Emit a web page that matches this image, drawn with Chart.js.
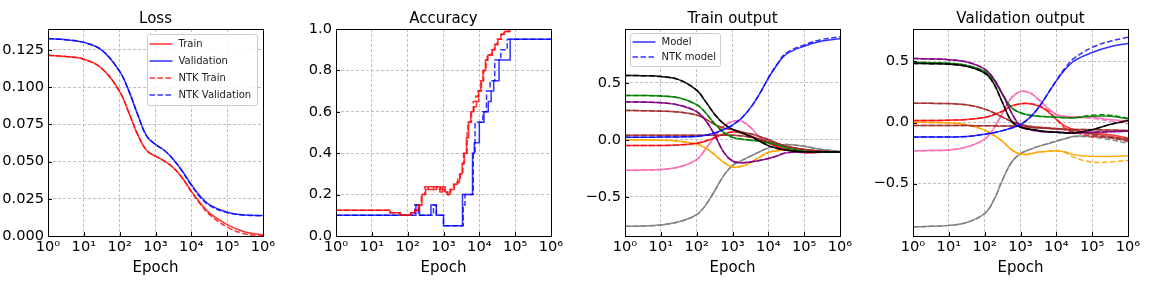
<!DOCTYPE html>
<html>
<head>
<meta charset="utf-8">
<script src="https://cdn.jsdelivr.net/npm/chart.js@4.4.1/dist/chart.umd.min.js"></script>
<style>
  body { margin: 0; background: #fff; width: 1152px; height: 288px; overflow: hidden; position: relative; }
  canvas { position: absolute; top: 0; }
</style>
</head>
<body>
<canvas id="lossChart" width="288" height="288" style="left:0px"></canvas>
<canvas id="accChart" width="288" height="288" style="left:288px"></canvas>
<canvas id="trainOutChart" width="288" height="288" style="left:577px"></canvas>
<canvas id="valOutChart" width="288" height="288" style="left:865px"></canvas>
<script>
// shared epoch grid for the smooth curves
const epochs = [1, 3.162, 10, 31.62, 100, 177.8, 316.2, 562.3, 1000, 1778, 3162, 5623, 10000, 17780, 31620, 100000, 316200, 1000000];
const xTicks = [1, 10, 100, 1000, 10000, 100000, 1000000];
const xTickLabels = ['10\u2070', '10\u00b9', '10\u00b2', '10\u00b3', '10\u2074', '10\u2075', '10\u2076'];

// Loss
const lossTrain    = [0.1214, 0.1205, 0.1187, 0.1125, 0.0970, 0.0832, 0.0682, 0.0575, 0.0536, 0.0503, 0.0458, 0.0390, 0.0300, 0.0222, 0.0155, 0.0076, 0.0027, 0.0009];
const lossVal      = [0.1326, 0.1318, 0.1300, 0.1248, 0.1105, 0.0978, 0.0817, 0.0672, 0.0615, 0.0574, 0.0514, 0.0435, 0.0346, 0.0267, 0.0211, 0.0159, 0.0141, 0.0137];
const lossNtkTrain = [0.1214, 0.1205, 0.1187, 0.1125, 0.0970, 0.0832, 0.0682, 0.0575, 0.0536, 0.0503, 0.0458, 0.0388, 0.0296, 0.0215, 0.0145, 0.0060, 0.0014, 0.0001];
const lossNtkVal   = [0.1326, 0.1318, 0.1300, 0.1248, 0.1105, 0.0978, 0.0817, 0.0672, 0.0615, 0.0574, 0.0514, 0.0433, 0.0340, 0.0260, 0.0205, 0.0157, 0.0140, 0.0136];
const lossTicks = [0, 0.025, 0.05, 0.075, 0.1, 0.125];

// Accuracy (step changes: epoch where the value switches, new value)
const accTrainEpochs = [1, 31.6, 60, 126, 158, 200, 251, 316, 372, 525, 631, 794, 933, 1122, 1259, 1514, 1995, 2399, 2818, 3311, 3802, 4365, 5012, 5754, 7079, 8318, 9550, 10960, 12590, 14790, 17380, 22910, 27540, 33110, 39810, 50120, 70790, 1000000];
const accTrain       = [0.125, 0.1125, 0.1, 0.1125, 0.125, 0.15, 0.2, 0.225, 0.2375, 0.225, 0.2375, 0.2125, 0.2375, 0.2125, 0.2, 0.225, 0.25, 0.2625, 0.3, 0.35, 0.4, 0.475, 0.55, 0.6, 0.625, 0.65, 0.7, 0.75, 0.8, 0.85, 0.875, 0.9, 0.925, 0.95, 0.975, 0.9875, 1.0, 1.0];
const accNtkTrainEpochs = [1, 33.9, 63, 120, 166, 209, 240, 302, 390, 501, 660, 832, 977, 1072, 1318, 1585, 1905, 2512, 2951, 3467, 3631, 4571, 4786, 6026, 6761, 7943, 9120, 11480, 13180, 15490, 16600, 21880, 26300, 31620, 41690, 47860, 67610, 1000000];
const accNtkTrain       = [0.125, 0.1125, 0.1, 0.1125, 0.125, 0.15, 0.2, 0.2375, 0.225, 0.2375, 0.225, 0.2375, 0.225, 0.2125, 0.2, 0.225, 0.25, 0.275, 0.3, 0.35, 0.4, 0.5, 0.55, 0.6, 0.65, 0.675, 0.7, 0.75, 0.8, 0.85, 0.875, 0.9, 0.925, 0.95, 0.975, 0.9875, 1.0, 1.0];
const accValEpochs = [1, 170, 214, 447, 631, 1000, 3388, 6457, 7244, 10000, 13490, 17780, 21380, 25120, 35480, 72440, 1000000];
const accVal       = [0.1, 0.15, 0.1, 0.15, 0.1, 0.05, 0.2, 0.4, 0.45, 0.55, 0.6, 0.65, 0.7, 0.75, 0.85, 0.95, 0.95];
const accNtkValEpochs = [1, 158, 200, 525, 631, 1000, 3548, 3981, 6761, 7586, 12590, 15850, 19950, 26920, 39810, 60260, 1000000];
const accNtkVal       = [0.1, 0.15, 0.1, 0.15, 0.1, 0.05, 0.15, 0.2, 0.4, 0.55, 0.6, 0.7, 0.75, 0.85, 0.9, 0.95, 0.95];
const accTicks = [0, 0.2, 0.4, 0.6, 0.8, 1.0];

// Train output, one curve per training sample
const trBlue    = [0.023, 0.023, 0.024, 0.026, 0.030, 0.040, 0.060, 0.090, 0.130, 0.190, 0.280, 0.400, 0.540, 0.660, 0.750, 0.820, 0.865, 0.886];
const trBlueNtk = [0.023, 0.023, 0.024, 0.026, 0.030, 0.040, 0.060, 0.090, 0.130, 0.190, 0.280, 0.400, 0.540, 0.665, 0.760, 0.832, 0.880, 0.902];
const trBlack   = [0.564, 0.562, 0.555, 0.528, 0.435, 0.335, 0.225, 0.142, 0.092, 0.062, 0.030, -0.010, -0.050, -0.075, -0.090, -0.105, -0.107, -0.107];
const trGreen   = [0.389, 0.388, 0.384, 0.368, 0.308, 0.236, 0.142, 0.066, 0.022, 0.006, -0.003, -0.012, -0.026, -0.045, -0.070, -0.100, -0.106, -0.107];
const trPurple  = [0.333, 0.331, 0.326, 0.305, 0.248, 0.170, 0.045, -0.105, -0.185, -0.200, -0.193, -0.180, -0.164, -0.140, -0.114, -0.105, -0.107, -0.107];
const trBrown   = [0.257, 0.255, 0.251, 0.243, 0.218, 0.182, 0.136, 0.105, 0.090, 0.070, 0.053, 0.030, 0.003, -0.028, -0.056, -0.085, -0.100, -0.107];
const trBrown2  = [0.040, 0.040, 0.040, 0.040, 0.040, 0.040, 0.040, 0.040, 0.040, 0.035, 0.023, 0.008, -0.012, -0.035, -0.056, -0.085, -0.100, -0.107];
const trRed     = [-0.050, -0.050, -0.049, -0.045, -0.030, -0.010, 0.018, 0.050, 0.068, 0.062, 0.035, 0.002, -0.026, -0.060, -0.085, -0.108, -0.108, -0.107];
const trOrange  = [0.000, -0.001, -0.003, -0.012, -0.037, -0.072, -0.129, -0.195, -0.238, -0.232, -0.200, -0.152, -0.110, -0.095, -0.088, -0.100, -0.106, -0.107];
const trPink    = [-0.266, -0.265, -0.260, -0.238, -0.172, -0.080, 0.030, 0.118, 0.162, 0.164, 0.110, 0.025, -0.026, -0.060, -0.085, -0.114, -0.108, -0.107];
const trGray    = [-0.757, -0.754, -0.745, -0.718, -0.655, -0.572, -0.448, -0.315, -0.225, -0.182, -0.143, -0.105, -0.070, -0.050, -0.041, -0.056, -0.085, -0.100];
const outTicks = [-0.5, 0, 0.5];

// Validation output
const vaBlue       = [-0.118, -0.118, -0.118, -0.114, -0.095, -0.083, -0.066, -0.045, -0.016, 0.038, 0.121, 0.231, 0.341, 0.437, 0.505, 0.574, 0.621, 0.648];
const vaBlueNtk    = [-0.118, -0.118, -0.118, -0.114, -0.095, -0.083, -0.066, -0.045, -0.016, 0.038, 0.121, 0.231, 0.345, 0.450, 0.527, 0.615, 0.665, 0.698];
const vaPurple     = [0.525, 0.521, 0.515, 0.496, 0.438, 0.360, 0.231, 0.080, -0.030, -0.058, -0.071, -0.076, -0.080, -0.083, -0.085, -0.080, -0.075, -0.071];
const vaBlack      = [0.484, 0.482, 0.478, 0.460, 0.405, 0.320, 0.162, 0.011, -0.038, -0.052, -0.066, -0.074, -0.080, -0.083, -0.085, -0.058, -0.016, 0.016];
const vaGreen      = [0.492, 0.490, 0.485, 0.468, 0.418, 0.348, 0.231, 0.121, 0.080, 0.060, 0.052, 0.048, 0.044, 0.040, 0.038, 0.052, 0.052, 0.030];
const vaGreenNtk   = [0.492, 0.490, 0.485, 0.468, 0.418, 0.348, 0.231, 0.121, 0.080, 0.060, 0.052, 0.048, 0.044, 0.040, 0.040, 0.060, 0.060, 0.035];
const vaBrown      = [0.157, 0.157, 0.155, 0.145, 0.110, 0.080, 0.044, 0.010, -0.016, -0.030, -0.038, -0.044, -0.049, -0.057, -0.066, -0.093, -0.113, -0.140];
const vaBrownNtk   = [0.157, 0.157, 0.155, 0.145, 0.110, 0.080, 0.044, 0.010, -0.016, -0.030, -0.038, -0.044, -0.049, -0.060, -0.072, -0.100, -0.125, -0.155];
const vaBrown2     = [-0.025, -0.025, -0.025, -0.025, -0.026, -0.027, -0.028, -0.029, -0.030, -0.037, -0.044, -0.048, -0.052, -0.055, -0.057, -0.058, -0.062, -0.066];
const vaRed        = [0.016, 0.017, 0.019, 0.025, 0.042, 0.064, 0.093, 0.135, 0.154, 0.154, 0.135, 0.093, 0.025, -0.030, -0.058, -0.085, -0.099, -0.126];
const vaRedNtk     = [0.016, 0.017, 0.019, 0.025, 0.042, 0.064, 0.093, 0.135, 0.154, 0.156, 0.140, 0.100, 0.030, -0.050, -0.080, -0.113, -0.120, -0.135];
const vaOrange     = [0.003, 0.000, -0.003, -0.018, -0.062, -0.103, -0.154, -0.223, -0.258, -0.258, -0.242, -0.235, -0.231, -0.242, -0.264, -0.277, -0.277, -0.272];
const vaOrangeNtk  = [0.003, 0.000, -0.003, -0.018, -0.062, -0.103, -0.154, -0.223, -0.258, -0.258, -0.242, -0.235, -0.231, -0.245, -0.285, -0.324, -0.322, -0.310];
const vaPink       = [-0.231, -0.229, -0.224, -0.200, -0.135, -0.050, 0.080, 0.203, 0.253, 0.245, 0.190, 0.121, 0.066, 0.052, 0.047, 0.044, 0.025, 0.011];
const vaPinkNtk    = [-0.231, -0.229, -0.224, -0.200, -0.135, -0.050, 0.080, 0.203, 0.253, 0.245, 0.190, 0.121, 0.066, 0.050, 0.042, 0.035, 0.012, -0.008];
const vaGray       = [-0.854, -0.850, -0.842, -0.818, -0.745, -0.638, -0.468, -0.325, -0.255, -0.222, -0.195, -0.175, -0.154, -0.133, -0.113, -0.113, -0.126, -0.148];
const vaGrayNtk    = [-0.854, -0.850, -0.842, -0.818, -0.745, -0.638, -0.468, -0.325, -0.255, -0.222, -0.195, -0.172, -0.150, -0.130, -0.115, -0.120, -0.140, -0.170];

const colors = {
    red: 'rgba(255, 0, 0, 0.8)',
    blue: 'rgba(0, 0, 255, 0.8)',
    black: 'rgba(0, 0, 0, 0.9)',
    green: 'rgba(0, 128, 0, 0.9)',
    purple: 'rgba(128, 0, 128, 0.9)',
    brown: 'rgba(165, 42, 42, 0.85)',
    orange: 'rgba(255, 165, 0, 0.9)',
    hotpink: 'rgba(255, 105, 180, 0.9)',
    gray: 'rgba(128, 128, 128, 0.9)'
};
const FONT = 'DejaVu Sans';
const DASH = [5.5, 2.5];

const pts = (xs, ys) => xs.map((x, i) => ({ x: x, y: ys[i] }));

function curve(label, color, ys, dashed) {
    return {
        label: label,
        data: pts(epochs, ys),
        borderColor: color,
        borderWidth: 1.5,
        borderDash: dashed ? DASH : [],
        pointRadius: 0,
        fill: false,
        tension: 0.4
    };
}

function steps(label, color, xs, ys, dashed) {
    return {
        label: label,
        data: pts(xs, ys),
        borderColor: color,
        borderWidth: 1.5,
        borderDash: dashed ? DASH : [],
        pointRadius: 0,
        fill: false,
        stepped: 'before',
        tension: 0
    };
}

// axes frame, inward ticks and the panel title centred over the axes
const framePlugin = {
    id: 'frame',
    afterDatasetsDraw(chart, args, opts) {
        const a = chart.chartArea;
        const ctx = chart.ctx;
        ctx.save();
        ctx.strokeStyle = '#000';
        ctx.lineWidth = 1;
        ctx.beginPath();
        chart.scales.x.ticks.forEach(t => {
            const px = Math.round(chart.scales.x.getPixelForValue(t.value)) + 0.5;
            ctx.moveTo(px, a.bottom);
            ctx.lineTo(px, a.bottom - 4);
        });
        chart.scales.y.ticks.forEach(t => {
            const py = Math.round(chart.scales.y.getPixelForValue(t.value)) + 0.5;
            ctx.moveTo(a.left, py);
            ctx.lineTo(a.left + 4, py);
        });
        ctx.stroke();
        ctx.strokeRect(Math.round(a.left) + 0.5, Math.round(a.top) + 0.5, Math.round(a.right - a.left), Math.round(a.bottom - a.top));
        if (opts && opts.title) {
            ctx.fillStyle = '#000';
            ctx.font = '15px "' + FONT + '"';
            ctx.textAlign = 'center';
            ctx.textBaseline = 'alphabetic';
            ctx.fillText(opts.title, (a.left + a.right) / 2, 23);
        }
        ctx.restore();
    }
};

// legend drawn inside the plot area, like matplotlib
const boxLegendPlugin = {
    id: 'boxLegend',
    afterDraw(chart, args, opts) {
        if (!opts || !opts.items) return;
        const a = chart.chartArea;
        const ctx = chart.ctx;
        const x0 = a.left + opts.x, y0 = a.top + opts.y;
        ctx.save();
        ctx.fillStyle = 'rgba(255,255,255,0.85)';
        ctx.strokeStyle = '#cccccc';
        ctx.lineWidth = 1;
        ctx.beginPath();
        ctx.roundRect(Math.round(x0) + 0.5, Math.round(y0) + 0.5, opts.w, opts.h, 2);
        ctx.fill();
        ctx.stroke();
        ctx.font = '10px "' + FONT + '"';
        ctx.textBaseline = 'middle';
        opts.items.forEach((di, i) => {
            const ds = chart.data.datasets[di];
            const y = y0 + opts.first + i * opts.row;
            ctx.strokeStyle = ds.borderColor;
            ctx.lineWidth = 1.5;
            ctx.setLineDash(ds.borderDash || []);
            ctx.beginPath();
            ctx.moveTo(x0 + 3, y);
            ctx.lineTo(x0 + 26, y);
            ctx.stroke();
            ctx.setLineDash([]);
            ctx.fillStyle = '#222';
            ctx.fillText(ds.label, x0 + 32, y);
        });
        ctx.restore();
    }
};

function makeOptions(title, yMin, yMax, yTicks, fmt, legend) {
    const tickFont = { family: FONT, size: 14.6 };
    return {
        responsive: false,
        animation: false,
        events: [],
        layout: { padding: { left: 0, right: 25, top: 29, bottom: 0 } },
        plugins: {
            legend: { display: false },
            tooltip: { enabled: false },
            title: { display: false },
            frame: { title: title },
            boxLegend: legend
        },
        scales: {
            x: {
                type: 'logarithmic',
                min: 1,
                max: 1000000,
                afterBuildTicks: s => { s.ticks = xTicks.map(v => ({ value: v })); },
                afterFit: s => { s.height = 52; },
                ticks: {
                    autoSkip: false,
                    maxRotation: 0,
                    color: '#000',
                    font: tickFont,
                    padding: 2,
                    callback: (v, i) => xTickLabels[i]
                },
                grid: { color: '#b0b0b0', lineWidth: 0.8, drawTicks: false },
                border: { display: false, dash: [3, 2] },
                title: {
                    display: true,
                    text: 'Epoch',
                    color: '#000',
                    font: { family: FONT, size: 15 },
                    padding: { top: 0, bottom: 11 }
                }
            },
            y: {
                min: yMin,
                max: yMax,
                afterBuildTicks: s => { s.ticks = yTicks.map(v => ({ value: v })); },
                afterFit: s => { s.width = 48; },
                ticks: {
                    color: '#000',
                    font: tickFont,
                    padding: 4,
                    callback: fmt
                },
                grid: { color: '#b0b0b0', lineWidth: 0.8, drawTicks: false },
                border: { display: false, dash: [3, 2] }
            }
        }
    };
}

const signed = v => (v < 0 ? '\u2212' : '') + Math.abs(v).toFixed(1);

Chart.register(framePlugin, boxLegendPlugin);

new Chart(document.getElementById('lossChart'), {
    type: 'line',
    data: {
        datasets: [
            curve('Train', colors.red, lossTrain, false),
            curve('Validation', colors.blue, lossVal, false),
            curve('NTK Train', colors.red, lossNtkTrain, true),
            curve('NTK Validation', colors.blue, lossNtkVal, true)
        ]
    },
    options: makeOptions('Loss', 0, 0.139, lossTicks, v => v.toFixed(3),
        { items: [0, 1, 2, 3], x: 98.5, y: 5, w: 110, h: 71, first: 10, row: 17 })
});

new Chart(document.getElementById('accChart'), {
    type: 'line',
    data: {
        datasets: [
            steps('Train', colors.red, accTrainEpochs, accTrain, false),
            steps('NTK Train', colors.red, accNtkTrainEpochs, accNtkTrain, true),
            steps('Validation', colors.blue, accValEpochs, accVal, false),
            steps('NTK Validation', colors.blue, accNtkValEpochs, accNtkVal, true)
        ]
    },
    options: makeOptions('Accuracy', 0, 1, accTicks, v => v.toFixed(1), null)
});

const trainSeries = [
    ['blue', trBlue, trBlueNtk], ['black', trBlack, trBlack], ['green', trGreen, trGreen],
    ['purple', trPurple, trPurple], ['brown', trBrown, trBrown], ['brown', trBrown2, trBrown2],
    ['red', trRed, trRed], ['orange', trOrange, trOrange], ['hotpink', trPink, trPink], ['gray', trGray, trGray]
];
const valSeries = [
    ['blue', vaBlue, vaBlueNtk], ['black', vaBlack, vaBlack], ['purple', vaPurple, vaPurple],
    ['green', vaGreen, vaGreenNtk], ['brown', vaBrown, vaBrownNtk], ['brown', vaBrown2, vaBrown2],
    ['red', vaRed, vaRedNtk], ['orange', vaOrange, vaOrangeNtk], ['hotpink', vaPink, vaPinkNtk], ['gray', vaGray, vaGrayNtk]
];

function outputDatasets(series) {
    const out = [];
    series.forEach(([c, model, ntk], i) => {
        out.push(curve(i === 0 ? 'Model' : c, colors[c], model, false));
        out.push(curve(i === 0 ? 'NTK model' : c + ' NTK', colors[c], ntk, true));
    });
    return out;
}

new Chart(document.getElementById('trainOutChart'), {
    type: 'line',
    data: { datasets: outputDatasets(trainSeries) },
    options: makeOptions('Train output', -0.842, 0.971, outTicks, signed,
        { items: [0, 1], x: 4.5, y: 4, w: 90, h: 33, first: 9, row: 15 })
});

new Chart(document.getElementById('valOutChart'), {
    type: 'line',
    data: { datasets: outputDatasets(valSeries) },
    options: makeOptions('Validation output', -0.929, 0.766, outTicks, signed, null)
});
</script>
</body>
</html>
